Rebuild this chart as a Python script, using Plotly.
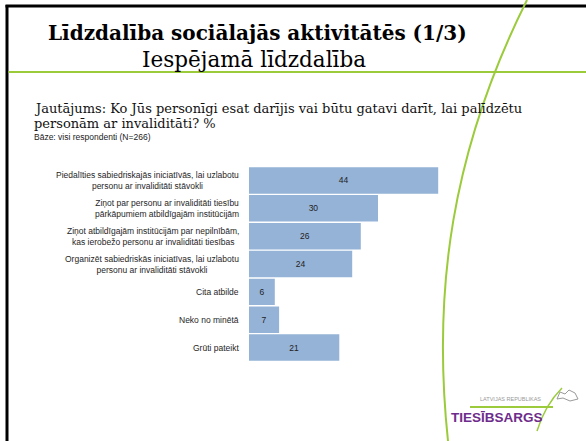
import plotly.graph_objects as go

W, H = 586, 441

# chart data
categories = [
    "Piedalīties sabiedriskajās iniciatīvās, lai uzlabotu<br>personu ar invaliditāti stāvokli",
    "Ziņot par personu ar invaliditāti tiesību<br>pārkāpumiem atbildīgajām institūcijām",
    "Ziņot atbildīgajām institūcijām par nepilnībām,<br>kas ierobežo personu ar invaliditāti tiesības",
    "Organizēt sabiedriskās iniciatīvas, lai uzlabotu<br>personu ar invaliditāti stāvokli",
    "Cita atbilde",
    "Neko no minētā",
    "Grūti pateikt",
]
values = [44, 30, 26, 24, 6, 7, 21]

title = "Līdzdalība sociālajās aktivitātēs (1/3)"
subtitle = "Iespējamā līdzdalība"
question_1 = "Jautājums: Ko Jūs personīgi esat darījis vai būtu gatavi darīt, lai palīdzētu"
question_2 = "personām ar invaliditāti? %"
base_note = "Bāze: visi respondenti (N=266)"

BAR = "#95B3D7"
GREEN = "#9BCB3B"
SERIF = "DejaVu Serif"   # Liberation Serif is not picked up here
SANS = "Liberation Sans"


def px(x):
    return x / W


def py(y):
    return 1 - y / H


fig = go.Figure()

fig.add_trace(
    go.Bar(
        x=values,
        y=list(range(len(categories))),
        orientation="h",
        marker=dict(color=BAR, line=dict(width=0)),
        text=values,
        textposition="inside",
        insidetextanchor="middle",
        textfont=dict(family=SANS, size=8.5, color="#222222"),
        constraintext="none",
        hoverinfo="skip",
    )
)

# category labels, right-aligned block with centred lines
annotations = []
for i, cat in enumerate(categories):
    annotations.append(
        dict(
            x=px(241), y=i, xref="paper", yref="y",
            text=cat, showarrow=False, xanchor="right", yanchor="middle",
            align="center", font=dict(family=SANS, size=8.5, color="#262626"),
        )
    )

# slide texts
annotations += [
    dict(x=px(257), y=py(33), text="<b>" + title + "</b>",
         font=dict(family=SERIF, size=20, color="#000000")),
    dict(x=px(254), y=py(59.5), text=subtitle,
         font=dict(family=SERIF, size=21.5, color="#000000")),
    dict(x=px(32), y=py(108), text=question_1, xanchor="left",
         font=dict(family=SERIF, size=13, color="#111111")),
    dict(x=px(32), y=py(123.5), text=question_2, xanchor="left",
         font=dict(family=SERIF, size=13, color="#111111")),
    dict(x=px(32), y=py(136.5), text=base_note, xanchor="left",
         font=dict(family=SANS, size=8.5, color="#222222")),
    # logo
    dict(x=px(510), y=py(399), text="LATVIJAS REPUBLIKAS",
         font=dict(family=SANS, size=5.5, color="#9a9a9a")),
    dict(x=px(497), y=py(417), text="<b>TIESĪBSARGS</b>",
         font=dict(family=SANS, size=13.5, color="#6E2C8C")),
]
for a in annotations:
    a.setdefault("xref", "paper")
    a.setdefault("yref", "paper")
    a.setdefault("xanchor", "center")
    a.setdefault("yanchor", "middle")
    a.setdefault("showarrow", False)

shapes = [
    # black frame (left + top)
    dict(type="line", x0=px(7), x1=px(7), y0=py(5), y1=py(441),
         line=dict(color="#000000", width=3)),
    dict(type="line", x0=px(5.5), x1=px(586), y0=py(6), y1=py(6),
         line=dict(color="#000000", width=3)),
    # green horizontal rule under the title
    dict(type="line", x0=px(8.5), x1=px(586), y0=py(72), y1=py(72),
         line=dict(color=GREEN, width=2)),
    # big green swoosh
    dict(type="path",
         path="M {},{} C {},{} {},{} {},{}".format(
             px(527), py(0), px(452), py(150), px(432), py(290), px(448), py(441)),
         line=dict(color=GREEN, width=2)),
    # logo rule and slash
    dict(type="line", x0=px(470), x1=px(553), y0=py(407), y1=py(407),
         line=dict(color=GREEN, width=2)),
    dict(type="path",
         path="M {},{} Q {},{} {},{}".format(
             px(562), py(388), px(545), py(405), px(537), py(431)),
         line=dict(color=GREEN, width=1.5)),
    # small map outline
    dict(type="path",
         path="M {},{} L {},{} L {},{} L {},{} L {},{} L {},{} L {},{} L {},{} Z".format(
             px(557), py(399), px(560), py(392), px(565), py(394), px(569), py(390),
             px(575), py(393), px(578), py(399), px(570), py(401), px(563), py(398)),
         line=dict(color="#9a9a9a", width=1)),
]
for s in shapes:
    s["xref"] = "paper"
    s["yref"] = "paper"

bar_top, bar_bottom = 166.5, 361.5

fig.update_layout(
    width=W,
    height=H,
    margin=dict(l=0, r=0, t=0, b=0),
    paper_bgcolor="white",
    plot_bgcolor="white",
    showlegend=False,
    bargap=0.05,
    xaxis=dict(domain=[px(249), px(249 + 50 * 4.3)], range=[0, 50],
               visible=False, fixedrange=True),
    yaxis=dict(domain=[py(bar_bottom), py(bar_top)], range=[6.5, -0.5],
               visible=False, fixedrange=True),
    annotations=annotations,
    shapes=shapes,
)

fig.write_html(
    "out.html",
    config={"displayModeBar": False},
    post_script="document.body.style.margin='0';",
)
